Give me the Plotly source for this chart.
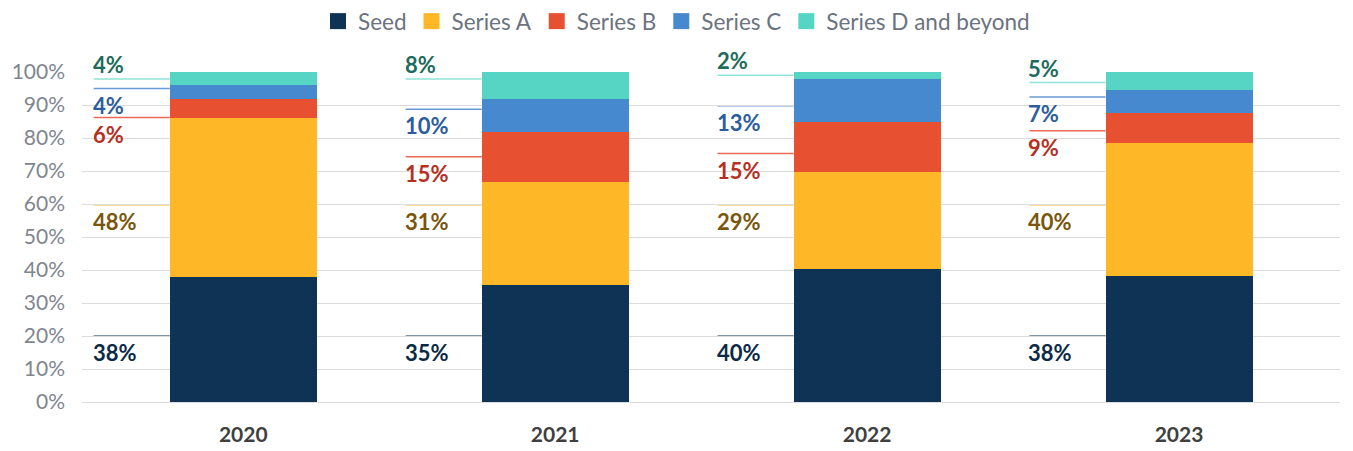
import plotly.graph_objects as go

years = ["2020", "2021", "2022", "2023"]
series_names = ["Seed", "Series A", "Series B", "Series C", "Series D and beyond"]
seed = [38.0, 35.4, 40.4, 38.2]
series_a = [48.0, 31.3, 29.4, 40.3]
series_b = [5.9, 15.1, 15.1, 9.1]
series_c = [4.1, 10.0, 13.0, 7.0]
series_d = [4.0, 8.2, 2.1, 5.4]
y_ticks = [0, 10, 20, 30, 40, 50, 60, 70, 80, 90, 100]

# label leader-line heights (layout positions, in axis units)
label_y_seed = [20, 20, 20, 20]
label_y_a = [59.8, 59.8, 59.8, 59.8]
label_y_b = [86.2, 74.3, 75.3, 82.2]
label_y_c = [95.0, 88.7, 89.8, 92.4]
label_y_d = [97.9, 97.9, 99.0, 96.8]

FONT = "Lato"
bar_colors = ["#0e3354", "#fdb727", "#e85032", "#4689cf", "#56d5c5"]
text_colors = ["#0b2a47", "#7a560c", "#b5301f", "#2c5d9c", "#1d6b5c"]
line_colors = ["#56708a", "#fdb727", "#ea6a55", "#6a9ad6", "#8fe3d7"]
BW = 0.471

all_vals = [seed, series_a, series_b, series_c, series_d]
all_ly = [label_y_seed, label_y_a, label_y_b, label_y_c, label_y_d]

fig = go.Figure()
for name, vals, col in zip(series_names, all_vals, bar_colors):
    fig.add_trace(go.Bar(x=years, y=vals, name=name, marker=dict(color=col, line=dict(width=0)),
                         width=BW, hoverinfo="skip", showlegend=False))
# legend entries with larger square swatches
for name, col in zip(series_names, bar_colors):
    fig.add_trace(go.Scatter(x=[None], y=[None], mode="markers", name=name,
                             marker=dict(symbol="square", size=16, color=col)))

shapes = []
annotations = []
for s, (vals, ly) in enumerate(zip(all_vals, all_ly)):
    for i, (v, yy) in enumerate(zip(vals, ly)):
        x0 = i - BW / 2 - 0.244
        x1 = i - BW / 2
        shapes.append(dict(type="line", xref="x", yref="y", x0=x0, x1=x1, y0=yy, y1=yy,
                           line=dict(color=line_colors[s], width=1.5), layer="below"))
        above = (s == 4)
        annotations.append(dict(xref="x", yref="y", x=x0, y=yy, text=f"{round(v)}%",
                                showarrow=False, xanchor="left", xshift=-3,
                                yanchor="bottom" if above else "top",
                                yshift=-1,
                                font=dict(family=FONT, size=22, color=text_colors[s], weight="bold")))

fig.update_layout(
    barmode="stack",
    width=1353, height=451,
    margin=dict(l=82, r=13, t=72, b=49, autoexpand=False),
    plot_bgcolor="white", paper_bgcolor="white",
    font=dict(family=FONT),
    bargap=0,
    shapes=shapes,
    annotations=annotations,
    legend=dict(orientation="h", xref="container", yref="container", x=0.5, xanchor="center",
                y=1.0, yanchor="top", font=dict(family=FONT, size=22.5, color="#6b7380"),
                traceorder="normal", itemwidth=30),
    xaxis=dict(range=[-0.517, 3.516], showgrid=False, showline=False, ticks="", automargin=False,
               tickfont=dict(family=FONT, size=21, color="#404040", weight="bold"),
               ticklabelstandoff=18),
    yaxis=dict(range=[0, 100], tickvals=y_ticks, ticktext=[f"{t}%" for t in y_ticks],
               showgrid=True, gridcolor="#dcdcdc", gridwidth=1, zeroline=True, automargin=False,
               zerolinecolor="#dcdcdc", zerolinewidth=1, showline=False, ticks="",
               tickfont=dict(family=FONT, size=21, color="#7f868f"), ticklabelstandoff=16),
)

fig.write_html("out.html", config={"displayModeBar": False},
               post_script="document.body.style.margin='0';")
